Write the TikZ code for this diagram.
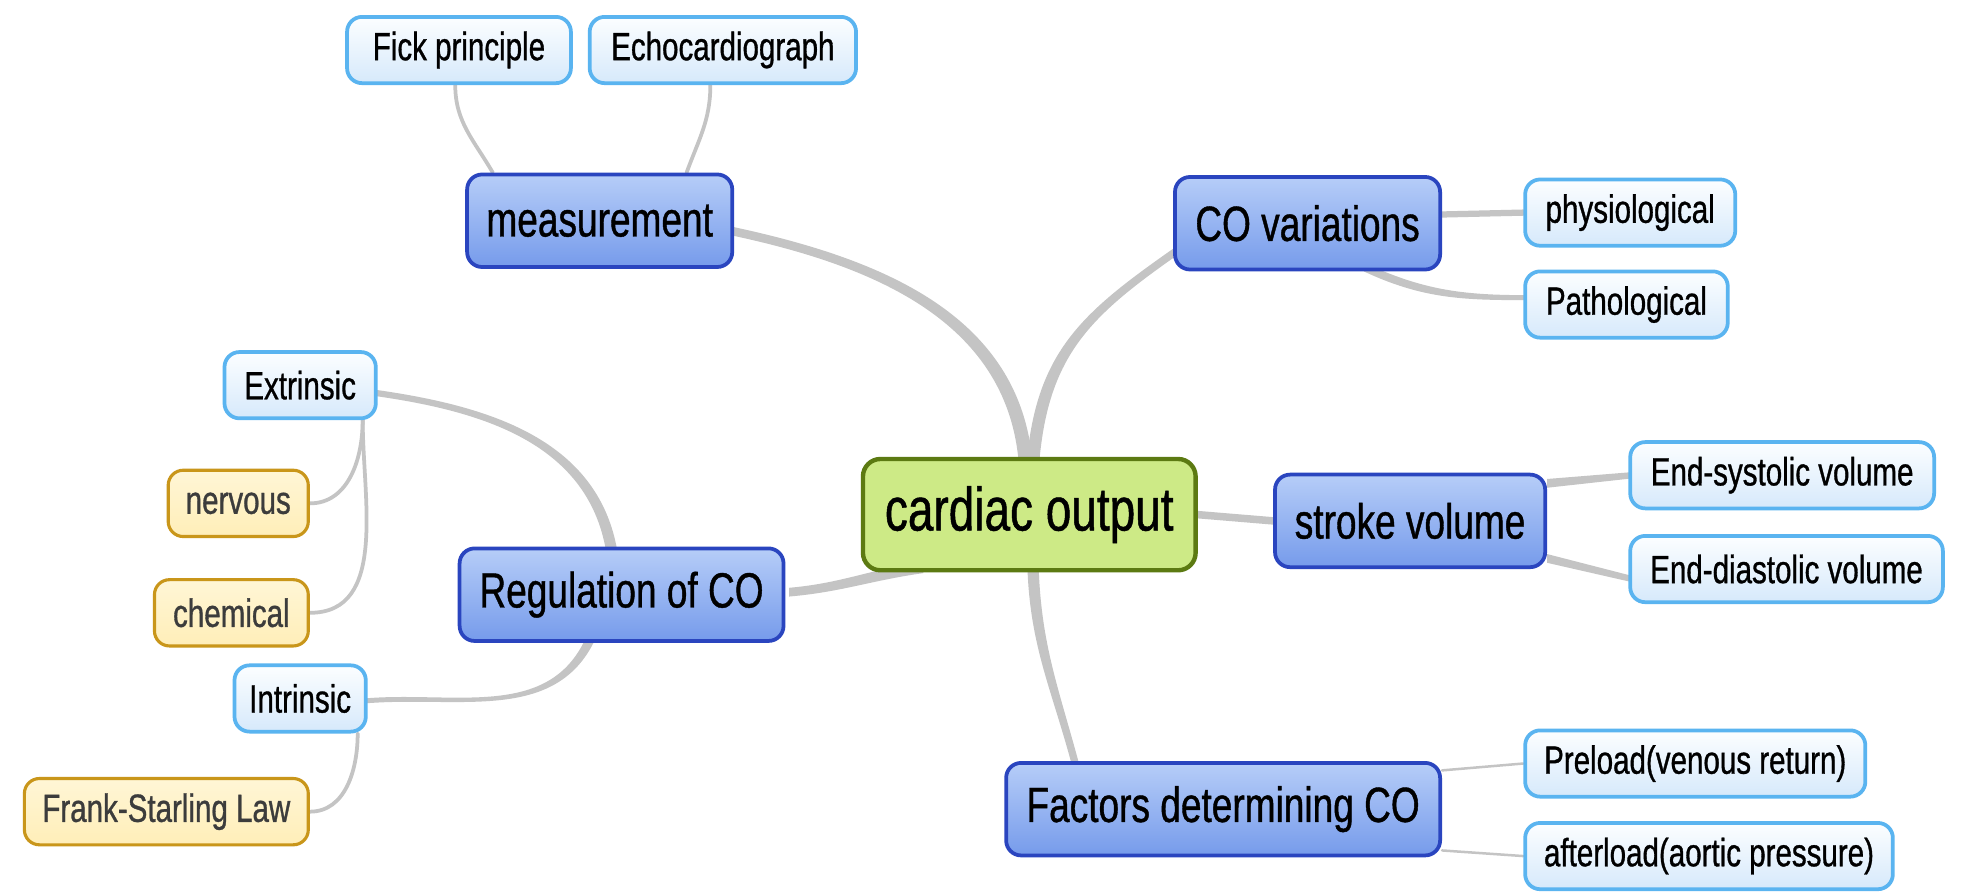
\documentclass[tikz,border=0pt]{standalone}
\usepackage{fontspec}
\setmainfont{Liberation Sans}[FakeStretch=0.75,FakeBold=0.8]
\usetikzlibrary{backgrounds}
\definecolor{leafline}{RGB}{90,180,240}
\definecolor{leaftop}{RGB}{252,254,255}
\definecolor{leafbot}{RGB}{214,233,251}
\definecolor{yelline}{RGB}{201,150,26}
\definecolor{yeltop}{RGB}{255,246,214}
\definecolor{yelbot}{RGB}{255,238,184}
\definecolor{yeltext}{RGB}{60,60,60}
\definecolor{mainline}{RGB}{42,69,191}
\definecolor{maintop}{RGB}{182,205,248}
\definecolor{mainbot}{RGB}{118,155,235}
\definecolor{rootline}{RGB}{92,122,18}
\definecolor{rootfill}{RGB}{205,234,134}
\definecolor{congray}{RGB}{196,196,196}
\tikzset{
  basebox/.style={rounded corners=12pt, inner sep=0pt, align=center},
  leafbox/.style={basebox, draw=leafline, line width=3pt, top color=leaftop, bottom color=leafbot,
    font=\fontsize{31.5}{36}\selectfont, minimum height=53pt},
  yelbox/.style={basebox, draw=yelline, line width=2.5pt, top color=yeltop, bottom color=yelbot,
    text=yeltext, font=\fontsize{31.5}{36}\selectfont, minimum height=53pt},
  mainbox/.style={basebox, draw=mainline, line width=3pt, top color=maintop, bottom color=mainbot,
    font=\fontsize{39.5}{44}\selectfont, minimum height=74pt},
  rootbox/.style={basebox, rounded corners=14pt, draw=rootline, line width=3.5pt, fill=rootfill,
    font=\fontsize{49}{54}\selectfont, minimum height=89pt},
  con/.style={draw=congray, line cap=round},
  band/.style={fill=congray}
}
\begin{document}
\begin{tikzpicture}[x=1pt,y=-1pt]
\useasboundingbox (0,0) rectangle (1568,714);
% nodes
\node[leafbox, minimum width=179pt] (fick) at (367,40) {Fick principle};
\node[leafbox, minimum width=213pt] (echo) at (578,40) {Echocardiograph};
\node[mainbox, minimum width=212pt] (meas) at (479.5,176.5) {measurement};
\node[mainbox, minimum width=212pt] (covar) at (1045.5,178.5) {CO variations};
\node[leafbox, minimum width=168pt] (phys) at (1303.5,170) {physiological};
\node[leafbox, minimum width=162pt] (patho) at (1300.5,243.5) {Pathological};
\node[leafbox, minimum width=121pt] (extr) at (240,308) {Extrinsic};
\node[yelbox, minimum width=112pt] (nerv) at (190.5,402.5) {nervous};
\node[yelbox, minimum width=123pt] (chem) at (185,490) {chemical};
\node[mainbox, minimum width=259pt] (reg) at (497,475.5) {Regulation of CO};
\node[rootbox, minimum width=266pt] (root) at (823,411.5) {cardiac output};
\node[mainbox, minimum width=216pt] (sv) at (1127.5,416.5) {stroke volume};
\node[leafbox, minimum width=243pt] (esv) at (1425,380) {End-systolic volume};
\node[leafbox, minimum width=250pt] (edv) at (1428.5,455) {End-diastolic volume};
\node[leafbox, minimum width=105pt] (intr) at (240,558.5) {Intrinsic};
\node[yelbox, minimum width=227pt] (fsl) at (133,649) {Frank-Starling Law};
\node[mainbox, minimum width=347pt] (fact) at (978,647) {Factors determining CO};
\node[leafbox, minimum width=272pt] (pre) at (1355.5,610.5) {Preload(venous return)};
\node[leafbox, minimum width=294pt] (aft) at (1366.5,684.5) {afterload(aortic pressure)};
% connectors
\begin{scope}[on background layer]
\fill[white] (0,0) rectangle (1568,714);
% root -> measurement (tapered)
\fill[band] ([xshift=-8.5pt,yshift=-4pt]root.north) to[out=95,in=-12] ([xshift=-3pt,yshift=-11.5pt]meas.east)
  -- ([xshift=-3pt,yshift=-4.5pt]meas.east) to[out=-12,in=95] ([xshift=2.5pt,yshift=-4pt]root.north) -- cycle;
% root -> CO variations
\fill[band] ([xshift=-2pt,yshift=-4pt]root.north) to[out=85,in=215,looseness=1.1] ([xshift=2pt,yshift=-19pt]covar.west)
  -- ([xshift=4pt,yshift=-25pt]covar.west) to[out=215,in=85,looseness=1.1] ([xshift=8pt,yshift=-4pt]root.north) -- cycle;
% root -> stroke volume
\draw[con, line width=6pt] (root.east) -- (sv.west);
% root -> factors
\fill[band] ([xshift=-1.5pt,yshift=4pt]root.south) to[out=-88,in=105] ([xshift=-121pt,yshift=-3pt]fact.north)
  -- ([xshift=-115pt,yshift=-3pt]fact.north) to[out=105,in=-88] ([xshift=7.5pt,yshift=4pt]root.south) -- cycle;
% root -> regulation
\fill[band] ([xshift=50pt,yshift=8.5pt]root.south west) to[out=188,in=5] ([xshift=3pt,yshift=5.5pt]reg.east)
  -- ([xshift=3pt,yshift=-1.5pt]reg.east) to[out=5,in=188] ([xshift=50pt,yshift=-0.5pt]root.south west) -- cycle;
% regulation -> extrinsic
\fill[band] ([xshift=-12.5pt,yshift=-3pt]reg.north) to[out=100,in=-8] ([xshift=-3pt,yshift=-8.5pt]extr.east)
  -- ([xshift=-3pt,yshift=-3.5pt]extr.east) to[out=-8,in=100] ([xshift=-3.5pt,yshift=-3pt]reg.north) -- cycle;
% regulation -> intrinsic
\fill[band] ([xshift=-21pt,yshift=3pt]reg.south) to[out=-115,in=5] ([xshift=-3pt,yshift=-4pt]intr.east)
  -- ([xshift=-3pt,yshift=0pt]intr.east) to[out=5,in=-115] ([xshift=-29pt,yshift=3pt]reg.south) -- cycle;
% measurement -> leaves
\draw[con, line width=3pt] ([xshift=22pt]meas.north west) to[out=120,in=-90] ([xshift=-3pt]fick.south);
\draw[con, line width=3pt] ([xshift=-38pt]meas.north east) to[out=70,in=-90] ([xshift=-10pt]echo.south);
% CO variations -> leaves
\draw[con, line width=5pt] ([yshift=7pt]covar.east) -- (phys.west);
\fill[band] ([xshift=45pt,yshift=7pt]covar.south) to[out=-25,in=180] ([xshift=3pt,yshift=7.5pt]patho.west)
  -- ([xshift=3pt,yshift=3.5pt]patho.west) to[out=180,in=-25] ([xshift=45pt,yshift=0pt]covar.south) -- cycle;
% stroke volume -> leaves
\fill[band] ([yshift=33.5pt]sv.east) -- ([xshift=3pt,yshift=2.5pt]esv.west)
  -- ([xshift=3pt,yshift=-2.5pt]esv.west) -- ([yshift=26.5pt]sv.east) -- cycle;
\fill[band] ([yshift=-26.5pt]sv.east) -- ([xshift=3pt,yshift=-5.5pt]edv.west)
  -- ([xshift=3pt,yshift=-10.5pt]edv.west) -- ([yshift=-33.5pt]sv.east) -- cycle;
% factors -> leaves
\draw[con, line width=2pt] ([yshift=31pt]fact.east) -- (pre.west);
\draw[con, line width=2pt] ([yshift=-33pt]fact.east) -- (aft.west);
% second-level leaves
\draw[con, line width=3pt] ([xshift=-12pt]extr.south east) to[out=-90,in=0] (nerv.east);
\draw[con, line width=3pt] ([xshift=-12pt]extr.south east) to[out=-90,in=0] (chem.east);
\draw[con, line width=3pt] ([xshift=-8pt]intr.south east) to[out=-90,in=0] (fsl.east);
\end{scope}
\end{tikzpicture}
\end{document}
